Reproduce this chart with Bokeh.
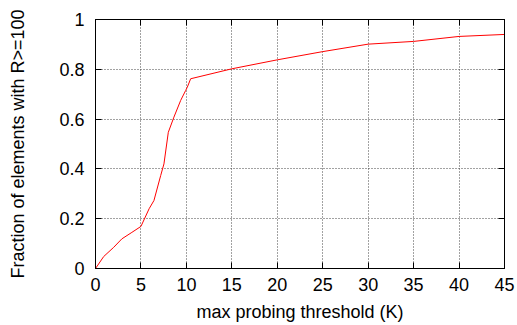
from bokeh.plotting import figure
from bokeh.models import Range1d, FixedTicker, LinearAxis
from bokeh.embed import file_html
from bokeh.resources import INLINE

# data
threshold = [0, 0.9, 2, 2.9, 4, 5, 5.9, 6.43, 7.17, 7.53, 8.01, 8.63, 9.37, 9.92, 10.1, 10.47,
             15, 20, 25, 30, 35, 40, 45]
fraction = [0, 0.048, 0.085, 0.119, 0.145, 0.169, 0.24, 0.273, 0.373, 0.42, 0.547, 0.608, 0.675,
            0.715, 0.728, 0.762, 0.802, 0.838, 0.871, 0.901, 0.912, 0.932, 0.94]
x_ticks = [0, 5, 10, 15, 20, 25, 30, 35, 40, 45]
y_ticks = [0, 0.2, 0.4, 0.6, 0.8, 1.0]
y_labels = {0: "0", 0.2: "0.2", 0.4: "0.4", 0.6: "0.6", 0.8: "0.8", 1.0: "1"}

FONT = "Liberation Sans"
FS = "18px"

p = figure(width=517, height=325, output_backend="svg", toolbar_location=None,
           x_range=Range1d(0, 45), y_range=Range1d(0, 1),
           min_border_left=95, min_border_right=13, min_border_top=19, min_border_bottom=57)
p.background_fill_color = "white"
p.border_fill_color = "white"
p.outline_line_color = "black"
p.outline_line_width = 1

p.line(threshold, fraction, line_color="#ff0000", line_width=1)

for ax in (p.xaxis[0], p.yaxis[0]):
    ax.major_tick_in = 6
    ax.major_tick_out = 0
    ax.minor_tick_line_color = None
    ax.axis_line_color = "black"
    ax.major_tick_line_color = "black"
    ax.major_label_text_font = FONT
    ax.major_label_text_font_size = FS
    ax.major_label_text_color = "black"
    ax.axis_label_text_font = FONT
    ax.axis_label_text_font_size = FS
    ax.axis_label_text_font_style = "normal"
    ax.axis_label_text_color = "black"

p.xaxis[0].ticker = FixedTicker(ticks=x_ticks)
p.yaxis[0].ticker = FixedTicker(ticks=y_ticks)
p.yaxis[0].major_label_overrides = y_labels
p.xaxis[0].major_label_standoff = 9
p.yaxis[0].major_label_standoff = 11
p.xaxis[0].axis_label = "max probing threshold (K)"
p.yaxis[0].axis_label = "Fraction of elements with R>=100"
p.xaxis[0].axis_label_standoff = 8
p.yaxis[0].axis_label_standoff = 28

# mirrored ticks on top and right (no labels)
top = LinearAxis(ticker=FixedTicker(ticks=x_ticks), major_tick_in=6, major_tick_out=0,
                 minor_tick_line_color=None, major_label_overrides={t: "" for t in x_ticks},
                 major_label_standoff=0, axis_line_color="black")
right = LinearAxis(ticker=FixedTicker(ticks=y_ticks), major_tick_in=6, major_tick_out=0,
                   minor_tick_line_color=None, major_label_overrides={t: "" for t in y_ticks},
                   major_label_standoff=0, axis_line_color="black")
p.add_layout(top, "above")
p.add_layout(right, "right")

for g in (p.xgrid[0], p.ygrid[0]):
    g.grid_line_color = "#444444"
    g.grid_line_dash = "1 2"
    g.grid_line_width = 1
p.xgrid[0].ticker = FixedTicker(ticks=x_ticks)
p.ygrid[0].ticker = FixedTicker(ticks=y_ticks)

open("out.html", "w").write(file_html(p, INLINE))
